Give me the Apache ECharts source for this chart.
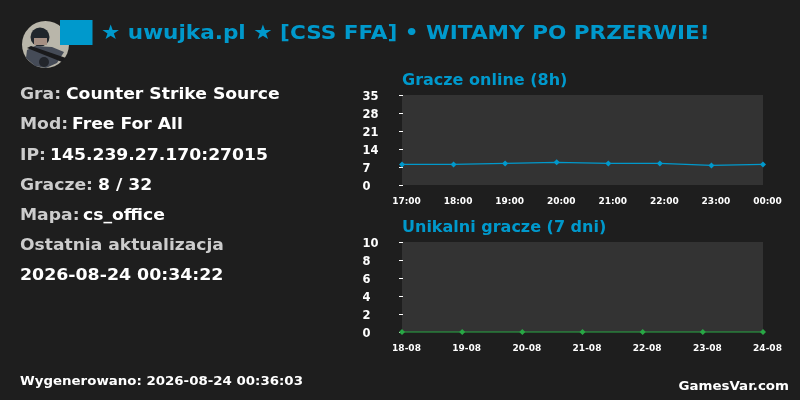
<!DOCTYPE html>
<html>
<head>
<meta charset="utf-8">
<style>
html, body { margin: 0; padding: 0; background: #1e1e1e; }
#main { width: 800px; height: 400px; }
</style>
</head>
<body>
<div id="main"></div>
<script src="https://cdn.jsdelivr.net/npm/echarts@6/dist/echarts.min.js"></script>
<script>
var hours = ['17:00', '18:00', '19:00', '20:00', '21:00', '22:00', '23:00', '00:00'];
var onlinePlayers = [8, 8, 8.4, 8.8, 8.4, 8.4, 7.6, 8];
var days = ['18-08', '19-08', '20-08', '21-08', '22-08', '23-08', '24-08'];
var uniquePlayers = [0, 0, 0, 0, 0, 0, 0];
var serverTitle = '★ uwujka.pl ★ [CSS FFA] • WITAMY PO PRZERWIE!';
var infoRows = [
    ['Gra:', 'Counter Strike Source', 95, 66],
    ['Mod:', 'Free For All', 125, 72],
    ['IP:', '145.239.27.170:27015', 155.5, 50],
    ['Gracze:', '8 / 32', 185.5, 98],
    ['Mapa:', 'cs_office', 215.5, 83]
];

var font = '"DejaVu Sans", sans-serif';
var blue = '#0099cc';
var green = '#28a745';

// text stretched a bit wider, the original glyphs are spaced out
function txt(x, y, text, size, color, stretch, align) {
    return {
        type: 'text',
        x: x,
        y: y,
        scaleX: stretch,
        silent: true,
        style: {
            text: text,
            fill: color,
            font: 'bold ' + size + 'px ' + font,
            textAlign: align || 'left',
            textVerticalAlign: 'middle'
        }
    };
}

// avatar
var graphics = [
    { type: 'circle', shape: { cx: 45.5, cy: 44.5, r: 23.5 }, style: { fill: '#b9b6aa' } },
    { type: 'circle', shape: { cx: 40, cy: 37, r: 9.5 }, style: { fill: '#20262c' } },
    { type: 'rect', shape: { x: 34, y: 38, width: 13, height: 7 }, style: { fill: '#a58f83' } },
    { type: 'polygon', shape: { points: [[27, 50], [35, 46], [52, 47], [64, 52], [57, 63], [46, 68], [35, 66], [26, 58]] }, style: { fill: '#454b57' } },
    { type: 'polygon', shape: { points: [[27, 48], [31, 46], [66, 58], [62, 62]] }, style: { fill: '#1a1a1c' } },
    { type: 'circle', shape: { cx: 44, cy: 62, r: 5 }, style: { fill: '#22252b' } },
    { type: 'rect', shape: { x: 60, y: 20, width: 32.5, height: 25 }, style: { fill: blue } }
];

graphics.push(txt(101, 33.5, serverTitle, 20, blue, 1.078));
infoRows.forEach(function(r) {
    graphics.push(txt(20, r[2], r[0], 16, '#cccccc', 1.075));
    graphics.push(txt(r[3], r[2], r[1], 16, '#ffffff', 1.075));
});
graphics.push(txt(20, 245.5, 'Ostatnia aktualizacja', 16, '#cccccc', 1.07));
graphics.push(txt(20, 275.5, '2026-08-24 00:34:22', 16, '#ffffff', 1.085));
graphics.push(txt(20, 381.5, 'Wygenerowano: 2026-08-24 00:36:03', 12, '#ffffff', 1.113));
graphics.push(txt(789, 386.5, 'GamesVar.com', 13, '#ffffff', 1.03, 'right'));

function xAxis(idx, data) {
    return {
        type: 'category',
        gridIndex: idx,
        data: data,
        boundaryGap: false,
        axisLine: { show: false },
        axisTick: { show: false },
        splitLine: { show: false },
        axisLabel: {
            interval: 0,
            hideOverlap: false,
            color: '#ffffff',
            fontFamily: font,
            fontWeight: 'bold',
            fontSize: 9,
            margin: 12.5,
            padding: [0, 0, 0, 9]
        }
    };
}

function yAxis(idx, max, interval) {
    return {
        type: 'value',
        gridIndex: idx,
        min: 0,
        max: max,
        interval: interval,
        offset: -1,
        axisLine: { show: false },
        axisTick: { show: true, length: 4, lineStyle: { color: '#ffffff', width: 1 } },
        splitLine: { show: false },
        axisLabel: {
            color: '#ffffff',
            fontFamily: font,
            fontWeight: 'bold',
            fontSize: 11.5,
            align: 'left',
            verticalAlign: 'top',
            lineHeight: 4,
            margin: 40.5
        }
    };
}

function lineSeries(idx, data, color) {
    return {
        type: 'line',
        xAxisIndex: idx,
        yAxisIndex: idx,
        data: data,
        symbol: 'diamond',
        symbolSize: 6,
        clip: false,
        animation: false,
        lineStyle: { color: color, width: 1.2 },
        itemStyle: { color: color }
    };
}

var myChart = echarts.init(document.querySelector('#main'), null, { renderer: 'canvas' });
var option = {
    backgroundColor: '#1e1e1e',
    animation: false,
    title: [
        { text: 'Gracze online (8h)', left: 402, top: 73, padding: 0, textStyle: { color: blue, fontFamily: font, fontWeight: 'bold', fontSize: 16 } },
        { text: 'Unikalni gracze (7 dni)', left: 402, top: 220, padding: 0, textStyle: { color: blue, fontFamily: font, fontWeight: 'bold', fontSize: 16 } }
    ],
    grid: [
        { left: 402, top: 95, width: 361, height: 90, show: true, backgroundColor: '#333333', borderWidth: 0 },
        { left: 402, top: 242, width: 361, height: 90, show: true, backgroundColor: '#333333', borderWidth: 0 }
    ],
    xAxis: [xAxis(0, hours), xAxis(1, days)],
    yAxis: [yAxis(0, 35, 7), yAxis(1, 10, 2)],
    series: [lineSeries(0, onlinePlayers, blue), lineSeries(1, uniquePlayers, green)],
    graphic: { elements: graphics }
};
myChart.setOption(option);
</script>
</body>
</html>
